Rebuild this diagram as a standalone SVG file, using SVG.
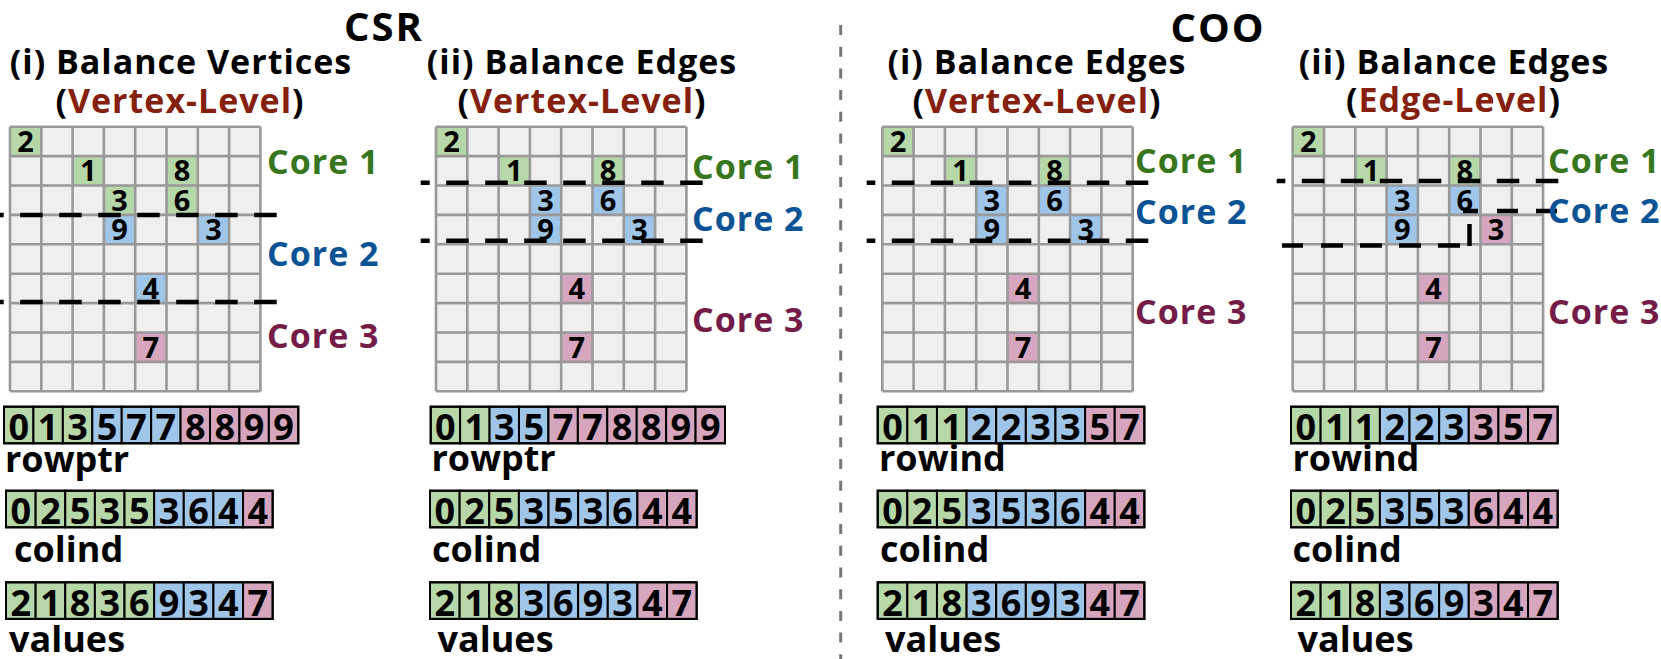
<svg xmlns="http://www.w3.org/2000/svg" xmlns:xlink="http://www.w3.org/1999/xlink" width="1661" height="659" viewBox="0 0 1661 659">
<style>
text{font-family:"Open Sans","Liberation Sans",sans-serif;font-weight:700;fill:#000}
.head{font-size:40px;text-anchor:middle;letter-spacing:2px}
.title{font-size:34px;text-anchor:middle;letter-spacing:1px}
.lvl{fill:#85200c}
.core{font-size:34px;letter-spacing:1px}
.c1{fill:#38761d}.c2{fill:#0b5394}.c3{fill:#741b47}
.gbg{fill:#efefef}
.gl{fill:none;stroke:#999;stroke-width:2.6}
.g{fill:#b6d7a8}.b{fill:#9fc5e8}.p{fill:#d5a6bd}
.cd{font-size:29px;text-anchor:middle}
.ad{font-size:36px;text-anchor:middle}
.ac rect{stroke:#000;stroke-width:2}
.ao{fill:none;stroke:#000;stroke-width:3}
.al{font-size:36px}
.cut{fill:none;stroke:#000;stroke-width:4.5;stroke-dasharray:22.5 16.5}
.solid{fill:none;stroke:#000;stroke-width:4.5}
.div{stroke:#777;stroke-width:3;stroke-dasharray:10 11.7}
</style>
<defs>
<rect id="gbg" class="gbg" x="0" y="0" width="250.4" height="264.6"/>
<path id="glines" class="gl" d="M0 0V264.6M31.3 0V264.6M62.6 0V264.6M93.9 0V264.6M125.2 0V264.6M156.5 0V264.6M187.8 0V264.6M219.1 0V264.6M250.4 0V264.6M0 0H250.4M0 29.4H250.4M0 58.8H250.4M0 88.2H250.4M0 117.6H250.4M0 147H250.4M0 176.4H250.4M0 205.8H250.4M0 235.2H250.4M0 264.6H250.4"/>
</defs>
<rect width="1661" height="659" fill="#fff"/>

<g id="headers">
<text class="head" x="384" y="41">CSR</text>
<text class="head" x="1218" y="42">COO</text>
</g>
<line id="divider" class="div" x1="840.7" y1="25" x2="840.7" y2="659"/>

<!-- ===== Panel 1 ===== -->
<g id="panel1-title">
<text class="title" x="181" y="74">(i) Balance Vertices</text>
<text class="title" x="180" y="113">(<tspan class="lvl">Vertex-Level</tspan>)</text>
</g>
<g id="panel1-matrix" transform="translate(10,126.7)">
<use href="#gbg"/>
<rect class="g" x="0" y="0" width="31.3" height="29.4"/>
<rect class="g" x="62.6" y="29.4" width="31.3" height="29.4"/>
<rect class="g" x="156.5" y="29.4" width="31.3" height="29.4"/>
<rect class="g" x="93.9" y="58.8" width="31.3" height="29.4"/>
<rect class="g" x="156.5" y="58.8" width="31.3" height="29.4"/>
<rect class="b" x="93.9" y="88.2" width="31.3" height="29.4"/>
<rect class="b" x="187.8" y="88.2" width="31.3" height="29.4"/>
<rect class="b" x="125.2" y="147" width="31.3" height="29.4"/>
<rect class="p" x="125.2" y="205.8" width="31.3" height="29.4"/>
<use href="#glines"/>
<text class="cd" x="15.65" y="25.3">2</text>
<text class="cd" x="78.25" y="54.7">1</text>
<text class="cd" x="172.15" y="54.7">8</text>
<text class="cd" x="109.55" y="84.1">3</text>
<text class="cd" x="172.15" y="84.1">6</text>
<text class="cd" x="109.55" y="113.5">9</text>
<text class="cd" x="203.45" y="113.5">3</text>
<text class="cd" x="140.85" y="172.3">4</text>
<text class="cd" x="140.85" y="231.1">7</text>
</g>
<g id="panel1-cores">
<text class="core c1" x="267" y="174">Core 1</text>
<text class="core c2" x="267" y="265.7">Core 2</text>
<text class="core c3" x="267" y="348.3">Core 3</text>
</g>
<g id="panel1-rowptr" class="ac" transform="translate(4,406.7)">
<rect class="g" x="0" width="29.43" height="36.6"/><rect class="g" x="29.43" width="29.43" height="36.6"/><rect class="g" x="58.86" width="29.43" height="36.6"/><rect class="b" x="88.29" width="29.43" height="36.6"/><rect class="b" x="117.72" width="29.43" height="36.6"/><rect class="b" x="147.15" width="29.43" height="36.6"/><rect class="p" x="176.58" width="29.43" height="36.6"/><rect class="p" x="206.01" width="29.43" height="36.6"/><rect class="p" x="235.44" width="29.43" height="36.6"/><rect class="p" x="264.87" width="29.43" height="36.6"/>
<rect class="ao" x="0" y="0" width="294.3" height="36.6"/>
<text class="ad" x="14.72" y="33.4">0</text><text class="ad" x="44.15" y="33.4">1</text><text class="ad" x="73.58" y="33.4">3</text><text class="ad" x="103.01" y="33.4">5</text><text class="ad" x="132.44" y="33.4">7</text><text class="ad" x="161.87" y="33.4">7</text><text class="ad" x="191.3" y="33.4">8</text><text class="ad" x="220.73" y="33.4">8</text><text class="ad" x="250.16" y="33.4">9</text><text class="ad" x="279.59" y="33.4">9</text>
</g>
<text class="al" x="5" y="471.7">rowptr</text>
<g id="panel1-colind" class="ac" transform="translate(6,490.7)">
<rect class="g" x="0" width="29.63" height="36.6"/><rect class="g" x="29.63" width="29.63" height="36.6"/><rect class="g" x="59.26" width="29.63" height="36.6"/><rect class="g" x="88.89" width="29.63" height="36.6"/><rect class="g" x="118.52" width="29.63" height="36.6"/><rect class="b" x="148.15" width="29.63" height="36.6"/><rect class="b" x="177.78" width="29.63" height="36.6"/><rect class="b" x="207.41" width="29.63" height="36.6"/><rect class="p" x="237.04" width="29.63" height="36.6"/>
<rect class="ao" x="0" y="0" width="266.67" height="36.6"/>
<text class="ad" x="14.82" y="33.4">0</text><text class="ad" x="44.45" y="33.4">2</text><text class="ad" x="74.08" y="33.4">5</text><text class="ad" x="103.71" y="33.4">3</text><text class="ad" x="133.34" y="33.4">5</text><text class="ad" x="162.97" y="33.4">3</text><text class="ad" x="192.6" y="33.4">6</text><text class="ad" x="222.23" y="33.4">4</text><text class="ad" x="251.86" y="33.4">4</text>
</g>
<text class="al" x="14" y="561.7">colind</text>
<g id="panel1-values" class="ac" transform="translate(6,582.3)">
<rect class="g" x="0" width="29.63" height="36.6"/><rect class="g" x="29.63" width="29.63" height="36.6"/><rect class="g" x="59.26" width="29.63" height="36.6"/><rect class="g" x="88.89" width="29.63" height="36.6"/><rect class="g" x="118.52" width="29.63" height="36.6"/><rect class="b" x="148.15" width="29.63" height="36.6"/><rect class="b" x="177.78" width="29.63" height="36.6"/><rect class="b" x="207.41" width="29.63" height="36.6"/><rect class="p" x="237.04" width="29.63" height="36.6"/>
<rect class="ao" x="0" y="0" width="266.67" height="36.6"/>
<text class="ad" x="14.82" y="33.4">2</text><text class="ad" x="44.45" y="33.4">1</text><text class="ad" x="74.08" y="33.4">8</text><text class="ad" x="103.71" y="33.4">3</text><text class="ad" x="133.34" y="33.4">6</text><text class="ad" x="162.97" y="33.4">9</text><text class="ad" x="192.6" y="33.4">3</text><text class="ad" x="222.23" y="33.4">4</text><text class="ad" x="251.86" y="33.4">7</text>
</g>
<text class="al" x="9" y="651.7">values</text>

<!-- ===== Panel 2 ===== -->
<g id="panel2-title">
<text class="title" x="582" y="74">(ii) Balance Edges</text>
<text class="title" x="582" y="113">(<tspan class="lvl">Vertex-Level</tspan>)</text>
</g>
<g id="panel2-matrix" transform="translate(436,126.7)">
<use href="#gbg"/>
<rect class="g" x="0" y="0" width="31.3" height="29.4"/>
<rect class="g" x="62.6" y="29.4" width="31.3" height="29.4"/>
<rect class="g" x="156.5" y="29.4" width="31.3" height="29.4"/>
<rect class="b" x="93.9" y="58.8" width="31.3" height="29.4"/>
<rect class="b" x="156.5" y="58.8" width="31.3" height="29.4"/>
<rect class="b" x="93.9" y="88.2" width="31.3" height="29.4"/>
<rect class="b" x="187.8" y="88.2" width="31.3" height="29.4"/>
<rect class="p" x="125.2" y="147" width="31.3" height="29.4"/>
<rect class="p" x="125.2" y="205.8" width="31.3" height="29.4"/>
<use href="#glines"/>
<text class="cd" x="15.65" y="25.3">2</text>
<text class="cd" x="78.25" y="54.7">1</text>
<text class="cd" x="172.15" y="54.7">8</text>
<text class="cd" x="109.55" y="84.1">3</text>
<text class="cd" x="172.15" y="84.1">6</text>
<text class="cd" x="109.55" y="113.5">9</text>
<text class="cd" x="203.45" y="113.5">3</text>
<text class="cd" x="140.85" y="172.3">4</text>
<text class="cd" x="140.85" y="231.1">7</text>
</g>
<g id="panel2-cores">
<text class="core c1" x="692" y="179">Core 1</text>
<text class="core c2" x="692" y="230.7">Core 2</text>
<text class="core c3" x="692" y="331.7">Core 3</text>
</g>
<g id="panel2-rowptr" class="ac" transform="translate(430.7,406.7)">
<rect class="g" x="0" width="29.43" height="36.6"/><rect class="g" x="29.43" width="29.43" height="36.6"/><rect class="b" x="58.86" width="29.43" height="36.6"/><rect class="b" x="88.29" width="29.43" height="36.6"/><rect class="p" x="117.72" width="29.43" height="36.6"/><rect class="p" x="147.15" width="29.43" height="36.6"/><rect class="p" x="176.58" width="29.43" height="36.6"/><rect class="p" x="206.01" width="29.43" height="36.6"/><rect class="p" x="235.44" width="29.43" height="36.6"/><rect class="p" x="264.87" width="29.43" height="36.6"/>
<rect class="ao" x="0" y="0" width="294.3" height="36.6"/>
<text class="ad" x="14.72" y="33.4">0</text><text class="ad" x="44.15" y="33.4">1</text><text class="ad" x="73.58" y="33.4">3</text><text class="ad" x="103.01" y="33.4">5</text><text class="ad" x="132.44" y="33.4">7</text><text class="ad" x="161.87" y="33.4">7</text><text class="ad" x="191.3" y="33.4">8</text><text class="ad" x="220.73" y="33.4">8</text><text class="ad" x="250.16" y="33.4">9</text><text class="ad" x="279.59" y="33.4">9</text>
</g>
<text class="al" x="431.5" y="471">rowptr</text>
<g id="panel2-colind" class="ac" transform="translate(430,490.7)">
<rect class="g" x="0" width="29.63" height="36.6"/><rect class="g" x="29.63" width="29.63" height="36.6"/><rect class="g" x="59.26" width="29.63" height="36.6"/><rect class="b" x="88.89" width="29.63" height="36.6"/><rect class="b" x="118.52" width="29.63" height="36.6"/><rect class="b" x="148.15" width="29.63" height="36.6"/><rect class="b" x="177.78" width="29.63" height="36.6"/><rect class="p" x="207.41" width="29.63" height="36.6"/><rect class="p" x="237.04" width="29.63" height="36.6"/>
<rect class="ao" x="0" y="0" width="266.67" height="36.6"/>
<text class="ad" x="14.82" y="33.4">0</text><text class="ad" x="44.45" y="33.4">2</text><text class="ad" x="74.08" y="33.4">5</text><text class="ad" x="103.71" y="33.4">3</text><text class="ad" x="133.34" y="33.4">5</text><text class="ad" x="162.97" y="33.4">3</text><text class="ad" x="192.6" y="33.4">6</text><text class="ad" x="222.23" y="33.4">4</text><text class="ad" x="251.86" y="33.4">4</text>
</g>
<text class="al" x="432" y="561.7">colind</text>
<g id="panel2-values" class="ac" transform="translate(430,582.3)">
<rect class="g" x="0" width="29.63" height="36.6"/><rect class="g" x="29.63" width="29.63" height="36.6"/><rect class="g" x="59.26" width="29.63" height="36.6"/><rect class="b" x="88.89" width="29.63" height="36.6"/><rect class="b" x="118.52" width="29.63" height="36.6"/><rect class="b" x="148.15" width="29.63" height="36.6"/><rect class="b" x="177.78" width="29.63" height="36.6"/><rect class="p" x="207.41" width="29.63" height="36.6"/><rect class="p" x="237.04" width="29.63" height="36.6"/>
<rect class="ao" x="0" y="0" width="266.67" height="36.6"/>
<text class="ad" x="14.82" y="33.4">2</text><text class="ad" x="44.45" y="33.4">1</text><text class="ad" x="74.08" y="33.4">8</text><text class="ad" x="103.71" y="33.4">3</text><text class="ad" x="133.34" y="33.4">6</text><text class="ad" x="162.97" y="33.4">9</text><text class="ad" x="192.6" y="33.4">3</text><text class="ad" x="222.23" y="33.4">4</text><text class="ad" x="251.86" y="33.4">7</text>
</g>
<text class="al" x="437.5" y="651.7">values</text>

<!-- ===== Panel 3 ===== -->
<g id="panel3-title">
<text class="title" x="1037" y="74">(i) Balance Edges</text>
<text class="title" x="1037" y="113">(<tspan class="lvl">Vertex-Level</tspan>)</text>
</g>
<g id="panel3-matrix" transform="translate(882.3,126.7)">
<use href="#gbg"/>
<rect class="g" x="0" y="0" width="31.3" height="29.4"/>
<rect class="g" x="62.6" y="29.4" width="31.3" height="29.4"/>
<rect class="g" x="156.5" y="29.4" width="31.3" height="29.4"/>
<rect class="b" x="93.9" y="58.8" width="31.3" height="29.4"/>
<rect class="b" x="156.5" y="58.8" width="31.3" height="29.4"/>
<rect class="b" x="93.9" y="88.2" width="31.3" height="29.4"/>
<rect class="b" x="187.8" y="88.2" width="31.3" height="29.4"/>
<rect class="p" x="125.2" y="147" width="31.3" height="29.4"/>
<rect class="p" x="125.2" y="205.8" width="31.3" height="29.4"/>
<use href="#glines"/>
<text class="cd" x="15.65" y="25.3">2</text>
<text class="cd" x="78.25" y="54.7">1</text>
<text class="cd" x="172.15" y="54.7">8</text>
<text class="cd" x="109.55" y="84.1">3</text>
<text class="cd" x="172.15" y="84.1">6</text>
<text class="cd" x="109.55" y="113.5">9</text>
<text class="cd" x="203.45" y="113.5">3</text>
<text class="cd" x="140.85" y="172.3">4</text>
<text class="cd" x="140.85" y="231.1">7</text>
</g>
<g id="panel3-cores">
<text class="core c1" x="1135" y="173.3">Core 1</text>
<text class="core c2" x="1135" y="224">Core 2</text>
<text class="core c3" x="1135" y="324">Core 3</text>
</g>
<g id="panel3-rowind" class="ac" transform="translate(877.7,406.7)">
<rect class="g" x="0" width="29.63" height="36.6"/><rect class="g" x="29.63" width="29.63" height="36.6"/><rect class="g" x="59.26" width="29.63" height="36.6"/><rect class="b" x="88.89" width="29.63" height="36.6"/><rect class="b" x="118.52" width="29.63" height="36.6"/><rect class="b" x="148.15" width="29.63" height="36.6"/><rect class="b" x="177.78" width="29.63" height="36.6"/><rect class="p" x="207.41" width="29.63" height="36.6"/><rect class="p" x="237.04" width="29.63" height="36.6"/>
<rect class="ao" x="0" y="0" width="266.67" height="36.6"/>
<text class="ad" x="14.82" y="33.4">0</text><text class="ad" x="44.45" y="33.4">1</text><text class="ad" x="74.08" y="33.4">1</text><text class="ad" x="103.71" y="33.4">2</text><text class="ad" x="133.34" y="33.4">2</text><text class="ad" x="162.97" y="33.4">3</text><text class="ad" x="192.6" y="33.4">3</text><text class="ad" x="222.23" y="33.4">5</text><text class="ad" x="251.86" y="33.4">7</text>
</g>
<text class="al" x="879" y="471">rowind</text>
<g id="panel3-colind" class="ac" transform="translate(877.7,490.7)">
<rect class="g" x="0" width="29.63" height="36.6"/><rect class="g" x="29.63" width="29.63" height="36.6"/><rect class="g" x="59.26" width="29.63" height="36.6"/><rect class="b" x="88.89" width="29.63" height="36.6"/><rect class="b" x="118.52" width="29.63" height="36.6"/><rect class="b" x="148.15" width="29.63" height="36.6"/><rect class="b" x="177.78" width="29.63" height="36.6"/><rect class="p" x="207.41" width="29.63" height="36.6"/><rect class="p" x="237.04" width="29.63" height="36.6"/>
<rect class="ao" x="0" y="0" width="266.67" height="36.6"/>
<text class="ad" x="14.82" y="33.4">0</text><text class="ad" x="44.45" y="33.4">2</text><text class="ad" x="74.08" y="33.4">5</text><text class="ad" x="103.71" y="33.4">3</text><text class="ad" x="133.34" y="33.4">5</text><text class="ad" x="162.97" y="33.4">3</text><text class="ad" x="192.6" y="33.4">6</text><text class="ad" x="222.23" y="33.4">4</text><text class="ad" x="251.86" y="33.4">4</text>
</g>
<text class="al" x="880" y="561.7">colind</text>
<g id="panel3-values" class="ac" transform="translate(877.7,582.3)">
<rect class="g" x="0" width="29.63" height="36.6"/><rect class="g" x="29.63" width="29.63" height="36.6"/><rect class="g" x="59.26" width="29.63" height="36.6"/><rect class="b" x="88.89" width="29.63" height="36.6"/><rect class="b" x="118.52" width="29.63" height="36.6"/><rect class="b" x="148.15" width="29.63" height="36.6"/><rect class="b" x="177.78" width="29.63" height="36.6"/><rect class="p" x="207.41" width="29.63" height="36.6"/><rect class="p" x="237.04" width="29.63" height="36.6"/>
<rect class="ao" x="0" y="0" width="266.67" height="36.6"/>
<text class="ad" x="14.82" y="33.4">2</text><text class="ad" x="44.45" y="33.4">1</text><text class="ad" x="74.08" y="33.4">8</text><text class="ad" x="103.71" y="33.4">3</text><text class="ad" x="133.34" y="33.4">6</text><text class="ad" x="162.97" y="33.4">9</text><text class="ad" x="192.6" y="33.4">3</text><text class="ad" x="222.23" y="33.4">4</text><text class="ad" x="251.86" y="33.4">7</text>
</g>
<text class="al" x="885" y="651.7">values</text>

<!-- ===== Panel 4 ===== -->
<g id="panel4-title">
<text class="title" x="1454" y="74">(ii) Balance Edges</text>
<text class="title" x="1453.5" y="112">(<tspan class="lvl">Edge-Level</tspan>)</text>
</g>
<g id="panel4-matrix" transform="translate(1292.7,126.7)">
<use href="#gbg"/>
<rect class="g" x="0" y="0" width="31.3" height="29.4"/>
<rect class="g" x="62.6" y="29.4" width="31.3" height="29.4"/>
<rect class="g" x="156.5" y="29.4" width="31.3" height="29.4"/>
<rect class="b" x="93.9" y="58.8" width="31.3" height="29.4"/>
<rect class="b" x="156.5" y="58.8" width="31.3" height="29.4"/>
<rect class="b" x="93.9" y="88.2" width="31.3" height="29.4"/>
<rect class="p" x="187.8" y="88.2" width="31.3" height="29.4"/>
<rect class="p" x="125.2" y="147" width="31.3" height="29.4"/>
<rect class="p" x="125.2" y="205.8" width="31.3" height="29.4"/>
<use href="#glines"/>
<text class="cd" x="15.65" y="25.3">2</text>
<text class="cd" x="78.25" y="54.7">1</text>
<text class="cd" x="172.15" y="54.7">8</text>
<text class="cd" x="109.55" y="84.1">3</text>
<text class="cd" x="172.15" y="84.1">6</text>
<text class="cd" x="109.55" y="113.5">9</text>
<text class="cd" x="203.45" y="113.5">3</text>
<text class="cd" x="140.85" y="172.3">4</text>
<text class="cd" x="140.85" y="231.1">7</text>
</g>
<g id="panel4-rowind" class="ac" transform="translate(1291,406.7)">
<rect class="g" x="0" width="29.63" height="36.6"/><rect class="g" x="29.63" width="29.63" height="36.6"/><rect class="g" x="59.26" width="29.63" height="36.6"/><rect class="b" x="88.89" width="29.63" height="36.6"/><rect class="b" x="118.52" width="29.63" height="36.6"/><rect class="b" x="148.15" width="29.63" height="36.6"/><rect class="p" x="177.78" width="29.63" height="36.6"/><rect class="p" x="207.41" width="29.63" height="36.6"/><rect class="p" x="237.04" width="29.63" height="36.6"/>
<rect class="ao" x="0" y="0" width="266.67" height="36.6"/>
<text class="ad" x="14.82" y="33.4">0</text><text class="ad" x="44.45" y="33.4">1</text><text class="ad" x="74.08" y="33.4">1</text><text class="ad" x="103.71" y="33.4">2</text><text class="ad" x="133.34" y="33.4">2</text><text class="ad" x="162.97" y="33.4">3</text><text class="ad" x="192.6" y="33.4">3</text><text class="ad" x="222.23" y="33.4">5</text><text class="ad" x="251.86" y="33.4">7</text>
</g>
<text class="al" x="1292.5" y="471">rowind</text>
<g id="panel4-colind" class="ac" transform="translate(1291,490.7)">
<rect class="g" x="0" width="29.63" height="36.6"/><rect class="g" x="29.63" width="29.63" height="36.6"/><rect class="g" x="59.26" width="29.63" height="36.6"/><rect class="b" x="88.89" width="29.63" height="36.6"/><rect class="b" x="118.52" width="29.63" height="36.6"/><rect class="b" x="148.15" width="29.63" height="36.6"/><rect class="p" x="177.78" width="29.63" height="36.6"/><rect class="p" x="207.41" width="29.63" height="36.6"/><rect class="p" x="237.04" width="29.63" height="36.6"/>
<rect class="ao" x="0" y="0" width="266.67" height="36.6"/>
<text class="ad" x="14.82" y="33.4">0</text><text class="ad" x="44.45" y="33.4">2</text><text class="ad" x="74.08" y="33.4">5</text><text class="ad" x="103.71" y="33.4">3</text><text class="ad" x="133.34" y="33.4">5</text><text class="ad" x="162.97" y="33.4">3</text><text class="ad" x="192.6" y="33.4">6</text><text class="ad" x="222.23" y="33.4">4</text><text class="ad" x="251.86" y="33.4">4</text>
</g>
<text class="al" x="1292.5" y="561.7">colind</text>
<g id="panel4-values" class="ac" transform="translate(1291,582.3)">
<rect class="g" x="0" width="29.63" height="36.6"/><rect class="g" x="29.63" width="29.63" height="36.6"/><rect class="g" x="59.26" width="29.63" height="36.6"/><rect class="b" x="88.89" width="29.63" height="36.6"/><rect class="b" x="118.52" width="29.63" height="36.6"/><rect class="b" x="148.15" width="29.63" height="36.6"/><rect class="p" x="177.78" width="29.63" height="36.6"/><rect class="p" x="207.41" width="29.63" height="36.6"/><rect class="p" x="237.04" width="29.63" height="36.6"/>
<rect class="ao" x="0" y="0" width="266.67" height="36.6"/>
<text class="ad" x="14.82" y="33.4">2</text><text class="ad" x="44.45" y="33.4">1</text><text class="ad" x="74.08" y="33.4">8</text><text class="ad" x="103.71" y="33.4">3</text><text class="ad" x="133.34" y="33.4">6</text><text class="ad" x="162.97" y="33.4">9</text><text class="ad" x="192.6" y="33.4">3</text><text class="ad" x="222.23" y="33.4">4</text><text class="ad" x="251.86" y="33.4">7</text>
</g>
<text class="al" x="1297.5" y="651.7">values</text>

<!-- partition (cut) lines -->
<g id="partitions">
<line class="cut" x1="276.7" y1="215" x2="0" y2="215"/>
<line class="cut" x1="276.7" y1="302" x2="0" y2="302"/>
<line class="cut" x1="702.7" y1="182.7" x2="420.7" y2="182.7"/>
<line class="cut" x1="702.7" y1="240.7" x2="420.7" y2="240.7"/>
<line class="cut" x1="1148.3" y1="182.7" x2="866.7" y2="182.7"/>
<line class="cut" x1="1148.3" y1="240.7" x2="866.7" y2="240.7"/>
<line class="cut" x1="1558.3" y1="181" x2="1276.7" y2="181"/>
<path class="solid" d="M1536 211H1557M1497 211H1518M1463 211H1478M1469.5 224V246M1282 245.5H1303M1321 245.5H1343M1360 245.5H1382M1399 245.5H1421M1438 245.5H1460"/>
</g>
<g id="panel4-cores">
<text class="core c1" x="1548" y="173.3">Core 1</text>
<text class="core c2" x="1548" y="222.7">Core 2</text>
<text class="core c3" x="1548" y="324">Core 3</text>
</g>
</svg>
